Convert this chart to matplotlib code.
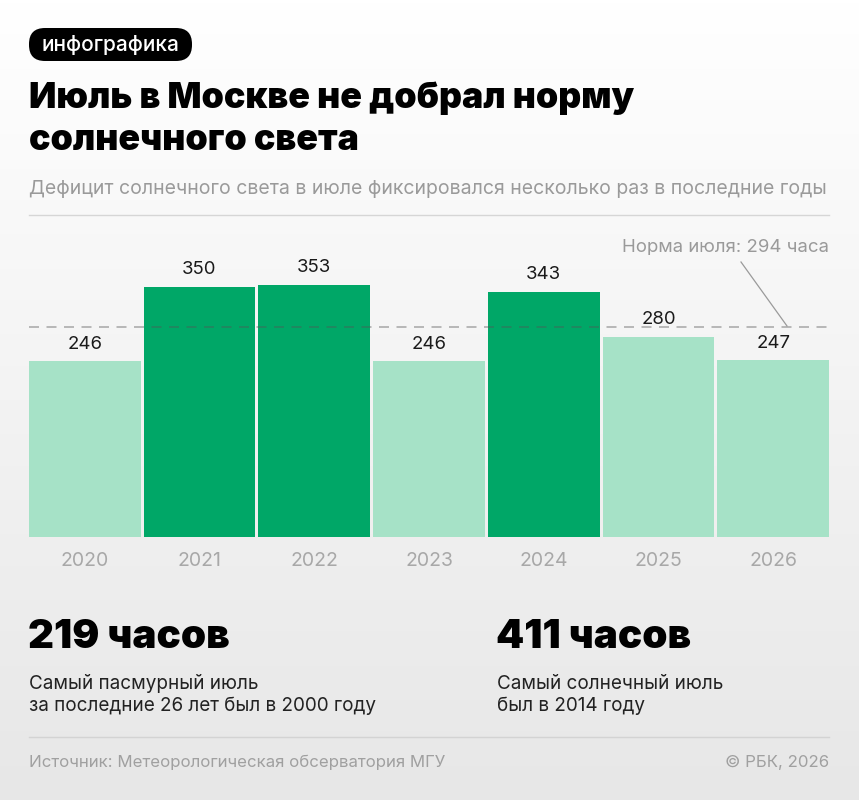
import matplotlib
matplotlib.use("Agg")
import matplotlib.pyplot as plt
from matplotlib.patches import FancyBboxPatch
from matplotlib.colors import LinearSegmentedColormap
import numpy as np

# ---- data ----
years = ["2020", "2021", "2022", "2023", "2024", "2025", "2026"]
hours = [246, 350, 353, 246, 343, 280, 247]
norm = 294
norm_label = "Норма июля: 294 часа"

title_lines = ["Июль в Москве не добрал норму", "солнечного света"]
subtitle = "Дефицит солнечного света в июле фиксировался несколько раз в последние годы"
badge = "инфографика"
stat1_value = "219 часов"
stat1_text = ["Самый пасмурный июль", "за последние 26 лет был в 2000 году"]
stat2_value = "411 часов"
stat2_text = ["Самый солнечный июль", "был в 2014 году"]
source = "Источник: Метеорологическая обсерватория МГУ"
copyright_text = "© РБК, 2026"

# ---- style ----
W, H = 859, 800
FONT = ["Inter", "Roboto", "DejaVu Sans"]
plt.rcParams["font.family"] = FONT
DARK = "#00a767"
LIGHT = "#a6e2c7"
GREY = "#9a9a9a"

fig = plt.figure(figsize=(W / 100, H / 100), dpi=100)

# background gradient
bg = fig.add_axes([0, 0, 1, 1], zorder=-10)
grad = np.linspace(0, 1, 256).reshape(-1, 1)
cmap = LinearSegmentedColormap.from_list("bg", ["#ffffff", "#f3f3f3", "#e7e7e7"])
bg.imshow(grad, aspect="auto", cmap=cmap, extent=[0, 1, 0, 1], origin="upper")
bg.set_axis_off()

# pixel overlay axes for decoration (x right, y down)
ov = fig.add_axes([0, 0, 1, 1], zorder=5)
ov.set_xlim(0, W)
ov.set_ylim(H, 0)
ov.set_axis_off()
ov.patch.set_visible(False)

# badge
bx0, by0, bx1, by1 = 29, 28, 192, 61
ov.add_patch(FancyBboxPatch((bx0, by0), bx1 - bx0, by1 - by0,
                            boxstyle="round,pad=0,rounding_size=16",
                            facecolor="#000000", edgecolor="none"))
ov.text((bx0 + bx1) / 2, 45, badge, color="white", fontsize=15,
        ha="center", va="center", fontweight="medium")

# title
ov.text(29, 108, title_lines[0], fontsize=25.7, fontweight="black", va="baseline", ha="left", color="#000")
ov.text(29, 150, title_lines[1], fontsize=25.7, fontweight="black", va="baseline", ha="left", color="#000")

# subtitle
ov.text(29, 194, subtitle, fontsize=14, color=GREY, va="baseline", ha="left")
ov.plot([29, 829], [215, 215], color="#d6d6d6", lw=1)

# chart
base_px, top_px = 537, 229.5
scale = 0.715  # px per hour
ymax = (base_px - top_px) / scale
ax = fig.add_axes([29 / W, 1 - base_px / H, 800 / W, (base_px - top_px) / H])
ax.set_facecolor("none")
x = np.arange(len(years))
bw = 0.973
colors = [DARK if h > norm else LIGHT for h in hours]
ax.bar(x, hours, width=bw, color=colors, zorder=1)
ax.set_xlim(-bw / 2, len(years) - 1 + bw / 2)
ax.set_ylim(0, ymax)
for xi, h in zip(x, hours):
    ax.text(xi, h + 12, str(h), ha="center", va="bottom", fontsize=13.4, color="#1a1a1a")
ax.axhline(norm, color="#555555", alpha=0.45, lw=1.2, dashes=(6, 4.5), zorder=3)
for s in ax.spines.values():
    s.set_visible(False)
ax.set_yticks([])
ax.set_xticks(x)
ax.set_xticklabels(years, fontsize=14, color="#a8a8a8")
ax.tick_params(axis="x", length=0, pad=11)

# norm annotation
ov.text(829, 252, norm_label, fontsize=13.4, color=GREY, ha="right", va="baseline")
ov.plot([741, 787], [262, 326], color="#9a9a9a", lw=0.9)

# stats
ov.text(28, 648, stat1_value, fontsize=29, fontweight="black", va="baseline", ha="left", color="#000")
ov.text(496, 648, stat2_value, fontsize=29, fontweight="black", va="baseline", ha="left", color="#000")
for i, line in enumerate(stat1_text):
    ov.text(29, 689 + i * 22, line, fontsize=13.6, va="baseline", ha="left", color="#222")
for i, line in enumerate(stat2_text):
    ov.text(497, 689 + i * 22, line, fontsize=13.6, va="baseline", ha="left", color="#222")

ov.plot([29, 829], [737, 737], color="#d3d3d3", lw=1)
ov.text(29, 767, source, fontsize=12.1, color="#a0a0a0", va="baseline", ha="left")
ov.text(829, 767, copyright_text, fontsize=12.1, color="#a0a0a0", va="baseline", ha="right")

fig.savefig("out.png", dpi=100)
